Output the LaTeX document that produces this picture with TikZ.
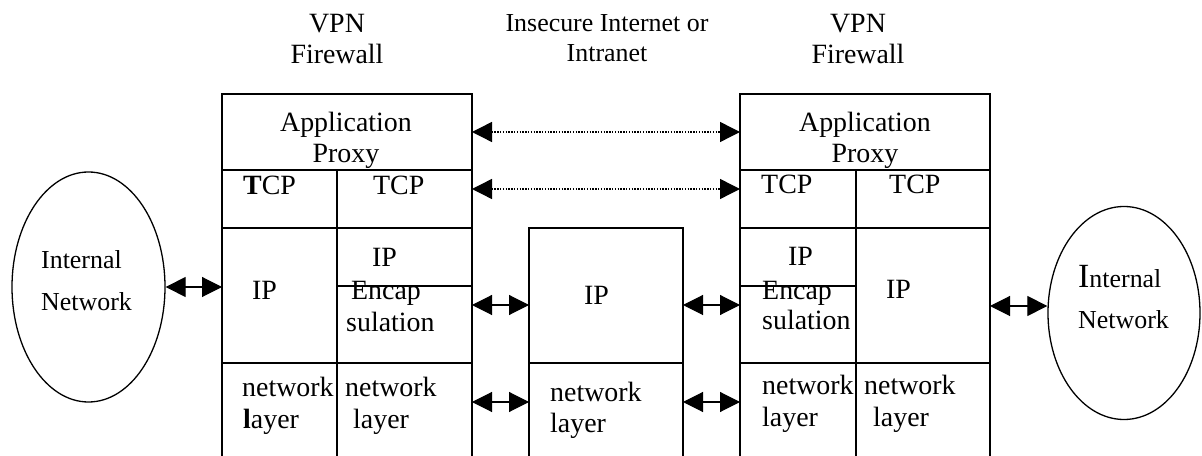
\documentclass[tikz,border=0pt]{standalone}
\usepackage{fontspec}
\setmainfont{Liberation Serif}
\usetikzlibrary{arrows.meta,shapes.geometric}

\begin{document}
\begin{tikzpicture}[x=1bp,y=-1bp,
  wall/.style={line width=1.6bp},
  txt/.style={anchor=base west,inner sep=0pt,font=\fontsize{28}{30}\selectfont},
  ctxt/.style={txt,anchor=base},
  stxt/.style={anchor=base west,inner sep=0pt,font=\fontsize{26}{30}\selectfont},
  sctxt/.style={stxt,anchor=base},
  net/.style={ellipse,draw,line width=1.3bp,inner sep=0pt},
  link/.style={line width=1.1bp,{Triangle[length=20bp,width=20bp]}-{Triangle[length=20bp,width=20bp]}},
  peer/.style={link,line width=1.4bp,dash pattern=on 1.4bp off 1.4bp},
]
\useasboundingbox (0,0) rectangle (1202,456);

% ---- left VPN firewall stack
\draw[wall] (222,456) -- (222,94) -- (472,94) -- (472,456);
\draw[wall] (222,170) -- (472,170);
\draw[wall] (222,228) -- (472,228);
\draw[wall] (222,363) -- (472,363);
\draw[wall] (337,170) -- (337,456);
\draw[wall] (337,286) -- (472,286);

% ---- insecure network box
\draw[wall] (529,456) -- (529,228) -- (683,228) -- (683,456);
\draw[wall] (529,363) -- (683,363);

% ---- right VPN firewall stack
\draw[wall] (740,456) -- (740,94) -- (990,94) -- (990,456);
\draw[wall] (740,170) -- (990,170);
\draw[wall] (740,228) -- (990,228);
\draw[wall] (740,363) -- (990,363);
\draw[wall] (856,170) -- (856,456);
\draw[wall] (740,286) -- (856,286);

% ---- internal networks
\node[net,minimum width=153bp,minimum height=230bp] (netL) at (88.5,287) {};
\node[net,minimum width=152bp,minimum height=213bp] (netR) at (1124,313) {};

% ---- connector end points on the stack walls
\coordinate (LappE) at (472,132);  \coordinate (RappW) at (740,132);
\coordinate (LtcpE) at (472,189);  \coordinate (RtcpW) at (740,189);
\coordinate (LipW)  at (222,287);
\coordinate (LencE) at (472,305);  \coordinate (MipW)  at (529,305);
\coordinate (MipE)  at (683,305);  \coordinate (RencW) at (740,305);
\coordinate (LnetE) at (472,402);  \coordinate (MnetW) at (529,402);
\coordinate (MnetE) at (683,402);  \coordinate (RnetW) at (740,402);
\coordinate (RipE)  at (990,306);

% ---- connectors
\draw[peer] (LappE) -- (RappW);
\draw[peer] (LtcpE) -- (RtcpW);
\draw[link] (netL.east) -- (LipW);
\draw[link] (LencE) -- (MipW);
\draw[link] (MipE) -- (RencW);
\draw[link] (LnetE) -- (MnetW);
\draw[link] (MnetE) -- (RnetW);
\draw[link] (RipE) -- (RipE -| netR.west);

% ---- headings
\node[ctxt] (hL1) at (337,33) {VPN};
\node[ctxt] (hL2) at (337,64) {Firewall};
\node[sctxt] (hM1) at (607,32) {Insecure Internet or};
\node[sctxt] (hM2) at (607,62) {Intranet};
\node[ctxt] (hR1) at (858,33) {VPN};
\node[ctxt] (hR2) at (858,64) {Firewall};

% ---- left stack labels
\node[ctxt] (lA1) at (346,132) {Application};
\node[ctxt] (lA2) at (346,163) {Proxy};
\node[txt] (lT1) at (243,195) {\textbf{T}CP};
\node[txt] (lT2) at (373,195) {TCP};
\node[txt] (lI1) at (252,300) {IP};
\node[txt] (lI2) at (372,267) {IP};
\node[txt] (lE1) at (351,300) {Encap};
\node[txt] (lE2) at (346,332) {sulation};
\node[txt] (lN1) at (242,397) {network};
\node[txt] (lL1) at (243,429) {\textbf{l}ayer};
\node[txt] (lN2) at (345,397) {network};
\node[txt] (lL2) at (353,429) {layer};

% ---- middle box labels
\node[txt] (mI) at (584,305) {IP};
\node[txt] (mN) at (550,402) {network};
\node[txt] (mL) at (550,433) {layer};

% ---- right stack labels
\node[ctxt] (rA1) at (865,132) {Application};
\node[ctxt] (rA2) at (865,163) {Proxy};
\node[txt] (rT1) at (761,194) {TCP};
\node[txt] (rT2) at (889,194) {TCP};
\node[txt] (rI1) at (788,266) {IP};
\node[txt] (rE1) at (762,300) {Encap};
\node[txt] (rE2) at (762,330) {sulation};
\node[txt] (rI2) at (886,299) {IP};
\node[txt] (rN1) at (762,395) {network};
\node[txt] (rL1) at (762,427) {layer};
\node[txt] (rN2) at (864,395) {network};
\node[txt] (rL2) at (873,427) {layer};

% ---- internal network labels
\node[stxt] (nL1) at (41,269) {Internal};
\node[stxt] (nL2) at (41,311) {Network};
\node[stxt] (nR1) at (1078,288) {{\fontsize{34}{34}\selectfont I}nternal};
\node[stxt] (nR2) at (1078,329) {Network};
\end{tikzpicture}
\end{document}
